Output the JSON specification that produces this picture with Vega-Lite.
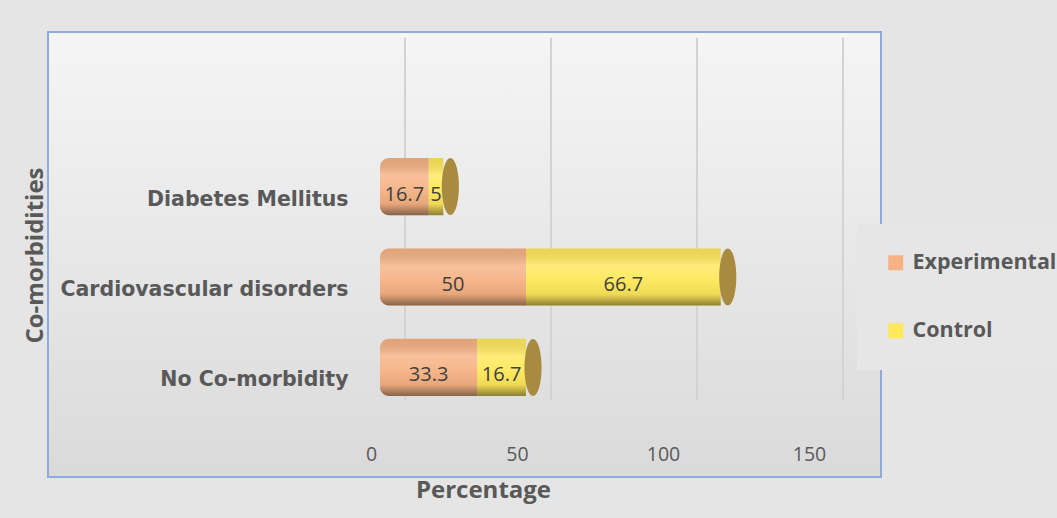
{
  "$schema": "https://vega.github.io/schema/vega-lite/v6.json",
  "autosize": "none",
  "width": 833,
  "height": 445,
  "padding": {"left": 48, "top": 32, "right": 176, "bottom": 41},
  "background": "#e5e5e5",
  "config": {
    "view": {
      "stroke": "#8faadc", "strokeWidth": 2,
      "fill": {
        "gradient": "linear", "x1": 0, "y1": 0, "x2": 0, "y2": 1,
        "stops": [
          {"offset": 0, "color": "#f5f5f5"},
          {"offset": 1, "color": "#dadada"}
        ]
      }
    },
    "font": "Open Sans",
    "axis": {"domain": false, "ticks": false, "tickSize": 0, "grid": false, "labelColor": "#595959", "titleColor": "#595959"}
  },
  "datasets": {
    "rows": [
      {"category": "Diabetes Mellitus", "group": "Experimental", "value": 16.7},
      {"category": "Diabetes Mellitus", "group": "Control", "value": 5},
      {"category": "Cardiovascular disorders", "group": "Experimental", "value": 50},
      {"category": "Cardiovascular disorders", "group": "Control", "value": 66.7},
      {"category": "No Co-morbidity", "group": "Experimental", "value": 33.3},
      {"category": "No Co-morbidity", "group": "Control", "value": 16.7}
    ],
    "grid": [{"tick": 0}, {"tick": 50}, {"tick": 100}, {"tick": 150}]
  },
  "layer": [
    {
      "data": {"name": "grid"},
      "mark": {"type": "rule", "stroke": "#d3d3d3", "strokeWidth": 2, "xOffset": 25, "yOffset": 6, "y2Offset": -77},
      "encoding": {
        "x": {
          "field": "tick", "type": "quantitative", "title": "Percentage",
          "scale": {"domain": [-113.7, 171.58], "nice": false, "zero": false},
          "axis": {
            "values": [0, 50, 100, 150],
            "labelOffset": -9, "labelPadding": -32, "labelFontSize": 19.5,
            "titleFontSize": 24, "titleFontWeight": "bold",
            "titleX": 435, "titleY": 20, "titleAlign": "center", "titleBaseline": "alphabetic"
          }
        },
        "y": {"value": 0},
        "y2": {"value": "height"}
      }
    },
    {
      "data": {"name": "rows"},
      "transform": [
        {"stack": "value", "groupby": ["category"], "sort": [{"field": "group", "order": "descending"}], "as": ["x0", "x1"]},
        {"calculate": "(datum.x0 + datum.x1) / 2", "as": "mid"}
      ],
      "encoding": {
        "y": {
          "field": "category", "type": "nominal", "title": "Co-morbidities",
          "sort": ["Diabetes Mellitus", "Cardiovascular disorders", "No Co-morbidity"],
          "scale": {"range": [126, 364], "paddingInner": 0.367, "paddingOuter": 0},
          "axis": {
            "labelPadding": -300, "labelOffset": 13, "labelFont": "DejaVu Sans", "labelFontWeight": "bold",
            "labelFontSize": 20.5, "labelLimit": 400,
            "titleFontSize": 24, "titleFontWeight": "bold",
            "titleX": -13, "titleY": 223, "titleAngle": 270, "titleAlign": "center", "titleBaseline": "middle"
          }
        }
      },
      "layer": [
        {
          "transform": [{"filter": "datum.group === 'Experimental'"}],
          "mark": {"type": "bar", "cornerRadiusTopLeft": 9, "cornerRadiusBottomLeft": 9},
          "encoding": {
            "x": {"field": "x0", "type": "quantitative", "title": "Percentage"},
            "x2": {"field": "x1"},
            "color": {
              "field": "group", "type": "nominal",
              "scale": {"domain": ["Experimental", "Control"], "range": ["#f6b283", "#ffe85a"]},
              "legend": {
                "orient": "none", "legendX": 809, "legendY": 192, "title": null, "direction": "vertical",
                "symbolType": "square", "symbolSize": 225, "symbolStrokeWidth": 0,
                "labelFontSize": 21.5, "labelFontWeight": "bold", "labelColor": "#595959", "labelFont": "Open Sans",
                "labelOffset": 6, "rowPadding": 45, "padding": 28, "fillColor": "#e6e6e6"
              }
            }
          }
        },
        {
          "transform": [{"filter": "datum.group === 'Control'"}],
          "mark": {"type": "bar"},
          "encoding": {
            "x": {"field": "x0", "type": "quantitative", "title": "Percentage"},
            "x2": {"field": "x1"},
            "color": {"field": "group", "type": "nominal"}
          }
        },
        {
          "transform": [{"filter": "datum.group === 'Experimental'"}],
          "mark": {
            "type": "bar", "cornerRadiusTopLeft": 9, "cornerRadiusBottomLeft": 9,
            "fill": {
              "gradient": "linear", "x1": 0, "y1": 0, "x2": 0, "y2": 1,
              "stops": [
                {"offset": 0, "color": "rgba(0,0,0,0.08)"},
                {"offset": 0.3, "color": "rgba(255,255,255,0.2)"},
                {"offset": 0.55, "color": "rgba(255,255,255,0.06)"},
                {"offset": 0.8, "color": "rgba(0,0,0,0.06)"},
                {"offset": 1, "color": "rgba(0,0,0,0.45)"}
              ]
            }
          },
          "encoding": {
            "x": {"field": "x0", "type": "quantitative", "title": "Percentage"},
            "x2": {"field": "x1"}
          }
        },
        {
          "transform": [{"filter": "datum.group === 'Control'"}],
          "mark": {
            "type": "bar",
            "fill": {
              "gradient": "linear", "x1": 0, "y1": 0, "x2": 0, "y2": 1,
              "stops": [
                {"offset": 0, "color": "rgba(0,0,0,0.08)"},
                {"offset": 0.3, "color": "rgba(255,255,255,0.2)"},
                {"offset": 0.55, "color": "rgba(255,255,255,0.06)"},
                {"offset": 0.8, "color": "rgba(0,0,0,0.06)"},
                {"offset": 1, "color": "rgba(0,0,0,0.45)"}
              ]
            }
          },
          "encoding": {
            "x": {"field": "x0", "type": "quantitative", "title": "Percentage"},
            "x2": {"field": "x1"}
          }
        },
        {
          "transform": [{"filter": "datum.group === 'Control'"}],
          "mark": {
            "type": "point", "filled": true, "opacity": 1, "fill": "#a88b40", "size": 3249, "xOffset": 7,
            "shape": "M0,-1A0.3,1,0,0,1,0,1A0.3,1,0,0,1,0,-1Z"
          },
          "encoding": {
            "x": {"field": "x1", "type": "quantitative", "title": "Percentage"}
          }
        },
        {
          "mark": {"type": "text", "font": "Open Sans", "fontSize": 20, "color": "#404040", "dy": 8},
          "encoding": {
            "x": {"field": "mid", "type": "quantitative", "title": "Percentage"},
            "text": {"field": "value", "type": "quantitative"}
          }
        }
      ]
    }
  ]
}
